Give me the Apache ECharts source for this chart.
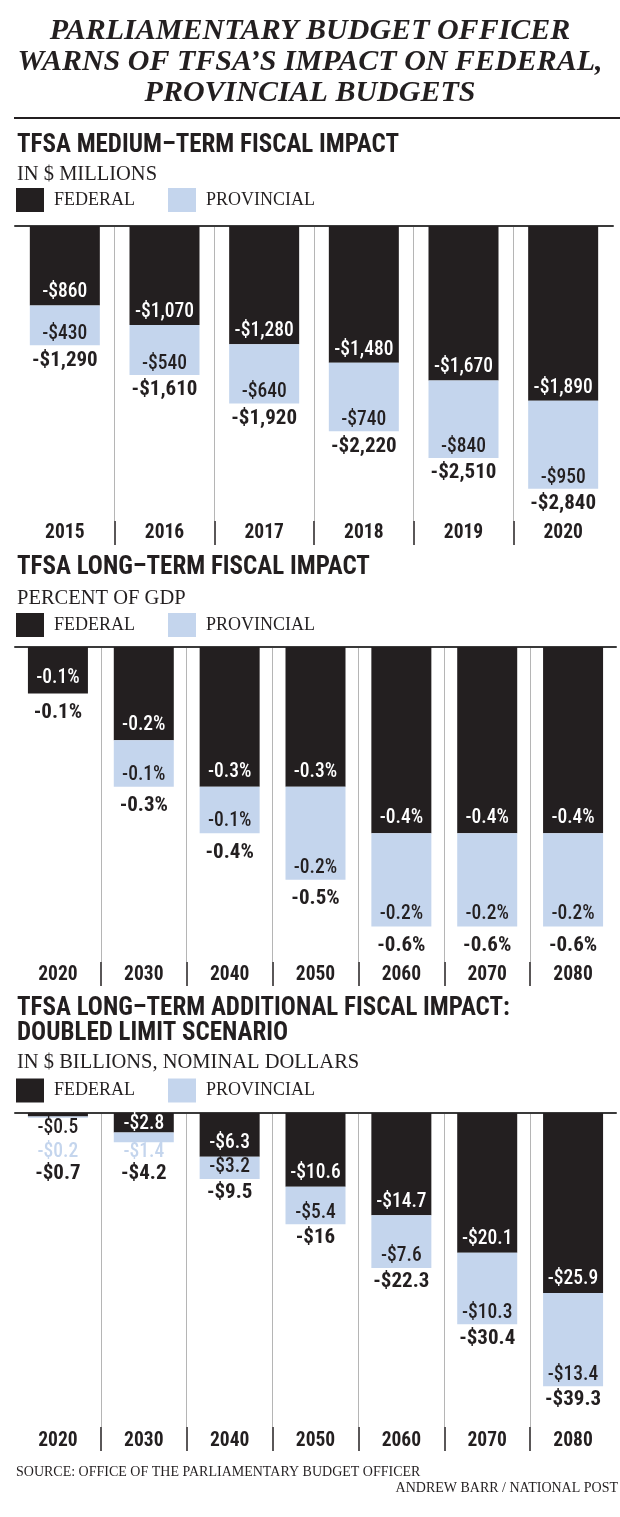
<!DOCTYPE html>
<html><head><meta charset="utf-8">
<script src="https://cdn.jsdelivr.net/npm/echarts@6.0.0/dist/echarts.min.js"></script>
<style>html,body{margin:0;padding:0;background:#fff}#c{width:620px;height:1517px}</style>
</head><body><div id="c"></div>
<script>
// ---- data ----
const mediumYears = ['2015', '2016', '2017', '2018', '2019', '2020'];
const mediumFederal = [-860, -1070, -1280, -1480, -1670, -1890];
const mediumProvincial = [-430, -540, -640, -740, -840, -950];
const mediumTotal = [-1290, -1610, -1920, -2220, -2510, -2840];

const longYears = ['2020', '2030', '2040', '2050', '2060', '2070', '2080'];
const longFederal = [-0.1, -0.2, -0.3, -0.3, -0.4, -0.4, -0.4];
const longProvincial = [0, -0.1, -0.1, -0.2, -0.2, -0.2, -0.2];
const longTotal = [-0.1, -0.3, -0.4, -0.5, -0.6, -0.6, -0.6];

const doubledYears = ['2020', '2030', '2040', '2050', '2060', '2070', '2080'];
const doubledFederal = [-0.5, -2.8, -6.3, -10.6, -14.7, -20.1, -25.9];
const doubledProvincial = [-0.2, -1.4, -3.2, -5.4, -7.6, -10.3, -13.4];
const doubledTotal = [-0.7, -4.2, -9.5, -16, -22.3, -30.4, -39.3];

const seriesNames = ['FEDERAL', 'PROVINCIAL'];

// ---- style ----
const DARK = '#231f20';
const BLUE = '#c4d5ed';
const GREY = '#b5b5b5';
const NARROW = "'Roboto Condensed', 'DejaVu Sans Condensed', sans-serif";
const SERIF = "'Liberation Serif', 'DejaVu Serif', serif";

const fmtMillions = v => '-$' + Math.abs(v).toLocaleString('en-US');
const fmtPct = v => v.toFixed(1) + '%';
const fmtBillions = v => '-$' + Math.abs(v);

const charts = [
  { cats: mediumYears, fed: mediumFederal, prov: mediumProvincial, tot: mediumTotal, fmt: fmtMillions,
    top: 226, height: 295, left: 15, width: 598, min: -3190, barWidth: 70,
    fedDist: 3, provDist: 1, totDist: 3.5, labelMargin: 2,
    overrides: { fed: {}, prov: {}, tot: {} } },
  { cats: longYears, fed: longFederal, prov: longProvincial, tot: longTotal, fmt: fmtPct,
    top: 647, height: 315, left: 15, width: 601, min: -0.6765, barWidth: 60,
    fedDist: 5, provDist: 2, totDist: 7.5, labelMargin: 3,
    overrides: { fed: {}, prov: {}, tot: {} } },
  { cats: doubledYears, fed: doubledFederal, prov: doubledProvincial, tot: doubledTotal, fmt: fmtBillions,
    top: 1113, height: 314, left: 15, width: 601, min: -45.18, barWidth: 60,
    fedDist: 3.5, provDist: 1.5, totDist: 2.5, labelMargin: 4,
    overrides: {
      fed: { 0: { position: 'bottom', distance: 2, color: DARK }, 1: { distance: -2 } },
      prov: { 0: { position: 'bottom', distance: 24, color: BLUE }, 1: { position: 'bottom', distance: 0, color: BLUE } },
      tot: { 0: { distance: 44 }, 1: { distance: 20 } }
    } }
];

const grid = [], xAxis = [], yAxis = [], series = [];
const valueLabel = { fontFamily: NARROW, fontWeight: 500, fontSize: 19.5, lineHeight: 20 };

function withOverrides(values, ov) {
  return values.map((v, i) => ov[i] ? { value: v, label: ov[i] } : v);
}

charts.forEach((c, k) => {
  const gMain = grid.length;
  grid.push({ left: c.left, width: c.width, top: c.top, height: c.height, containLabel: false, outerBoundsMode: 'none' });
  grid.push({ left: c.left, width: c.width, top: c.top + c.height, height: 24, containLabel: false, outerBoundsMode: 'none' });
  const xMain = xAxis.length;
  xAxis.push({
    type: 'category', gridIndex: gMain, data: c.cats, position: 'bottom',
    axisLine: { show: false }, axisTick: { show: false },
    axisLabel: { show: true, margin: c.labelMargin, color: DARK, fontFamily: NARROW, fontWeight: 'bold', fontSize: 19.5, lineHeight: 20 },
    splitLine: { show: true, showMinLine: false, showMaxLine: false, lineStyle: { color: GREY, width: 1 } }
  });
  xAxis.push({
    type: 'category', gridIndex: gMain, data: c.cats, position: 'top',
    axisLine: { show: true, onZero: false, lineStyle: { color: '#3a3a3a', width: 2 } },
    axisTick: { show: false }, axisLabel: { show: false }, splitLine: { show: false }
  });
  xAxis.push({
    type: 'category', gridIndex: gMain + 1, data: c.cats, position: 'bottom',
    axisLine: { show: false }, axisTick: { show: false }, axisLabel: { show: false },
    splitLine: { show: true, showMinLine: false, showMaxLine: false, lineStyle: { color: DARK, width: 1.5 } }
  });
  const yMain = yAxis.length;
  yAxis.push({ type: 'value', gridIndex: gMain, min: c.min, max: 0, show: false });
  yAxis.push({ type: 'value', gridIndex: gMain + 1, min: 0, max: 1, show: false });

  const stack = 'stack' + k;
  series.push({
    name: seriesNames[0], type: 'bar', stack, xAxisIndex: xMain, yAxisIndex: yMain,
    barWidth: c.barWidth, itemStyle: { color: DARK }, silent: true,
    data: withOverrides(c.fed, c.overrides.fed),
    label: Object.assign({ show: true, position: 'insideBottom', distance: c.fedDist, color: '#fff',
      formatter: p => p.value === 0 ? '' : c.fmt(p.value) }, valueLabel)
  });
  series.push({
    name: seriesNames[1], type: 'bar', stack, xAxisIndex: xMain, yAxisIndex: yMain,
    barWidth: c.barWidth, itemStyle: { color: BLUE }, silent: true,
    data: withOverrides(c.prov, c.overrides.prov),
    label: Object.assign({ show: true, position: 'insideBottom', distance: c.provDist, color: DARK,
      formatter: p => p.value === 0 ? '' : c.fmt(p.value) }, valueLabel)
  });
  series.push({
    name: 'TOTAL', type: 'scatter', xAxisIndex: xMain, yAxisIndex: yMain, symbolSize: 1,
    itemStyle: { color: 'rgba(0,0,0,0)', opacity: 1 }, silent: true, z: 5,
    data: withOverrides(c.tot, c.overrides.tot),
    label: { show: true, position: 'bottom', distance: c.totDist, color: DARK, opacity: 1, fontFamily: NARROW,
      fontWeight: 'bold', fontSize: 21, lineHeight: 22, formatter: p => c.fmt(p.value) }
  });
});

const headStyle = { fontFamily: NARROW, fontWeight: 'bold', fontSize: 25, lineHeight: 26, color: DARK };
const subStyle = { fontFamily: SERIF, fontWeight: 'normal', fontSize: 20.5, lineHeight: 24, color: DARK };

const title = [
  { text: 'PARLIAMENTARY BUDGET OFFICER\nWARNS OF TFSA\u2019S IMPACT ON FEDERAL,\nPROVINCIAL BUDGETS', left: 'center', top: 16, padding: 0,
    textStyle: { fontFamily: SERIF, fontStyle: 'italic', fontWeight: 'bold', fontSize: 30, lineHeight: 31, color: DARK } },
  { text: 'TFSA MEDIUM\u2013TERM FISCAL IMPACT', left: 17, top: 133, padding: 0, textStyle: headStyle },
  { text: 'IN $ MILLIONS', left: 17, top: 163, padding: 0, textStyle: subStyle },
  { text: 'TFSA LONG\u2013TERM FISCAL IMPACT', left: 17, top: 555, padding: 0, textStyle: headStyle },
  { text: 'PERCENT OF GDP', left: 17, top: 587, padding: 0, textStyle: subStyle },
  { text: 'TFSA LONG\u2013TERM ADDITIONAL FISCAL IMPACT:\nDOUBLED LIMIT SCENARIO', left: 17, top: 996, padding: 0,
    textStyle: Object.assign({}, headStyle, { lineHeight: 25 }) },
  { text: 'IN $ BILLIONS, NOMINAL DOLLARS', left: 17, top: 1050.5, padding: 0, textStyle: subStyle },
  { text: 'SOURCE: OFFICE OF THE PARLIAMENTARY BUDGET OFFICER', left: 16, top: 1464, padding: 0,
    textStyle: { fontFamily: SERIF, fontWeight: 'normal', fontSize: 14, lineHeight: 16, color: DARK } },
  { text: 'ANDREW BARR / NATIONAL POST', right: 2, top: 1480, padding: 0,
    textStyle: { fontFamily: SERIF, fontWeight: 'normal', fontSize: 14, lineHeight: 16, color: DARK } }
];

const legendBase = {
  data: seriesNames, left: 16, padding: 0, icon: 'rect', itemWidth: 28, itemHeight: 24, itemGap: 33,
  selectedMode: false, textStyle: { fontFamily: SERIF, fontSize: 18, color: DARK, padding: [0, 0, 0, 5] }
};
const legend = [188, 613, 1078.5].map(t => Object.assign({}, legendBase, { top: t }));

const chart = echarts.init(document.getElementById('c'), null, { renderer: 'canvas' });
chart.setOption({
  animation: false,
  backgroundColor: '#fff',
  title, legend, grid, xAxis, yAxis, series,
  graphic: [{ type: 'line', shape: { x1: 14, y1: 118, x2: 620, y2: 118 }, style: { stroke: DARK, lineWidth: 2 } }]
});
</script></body></html>
